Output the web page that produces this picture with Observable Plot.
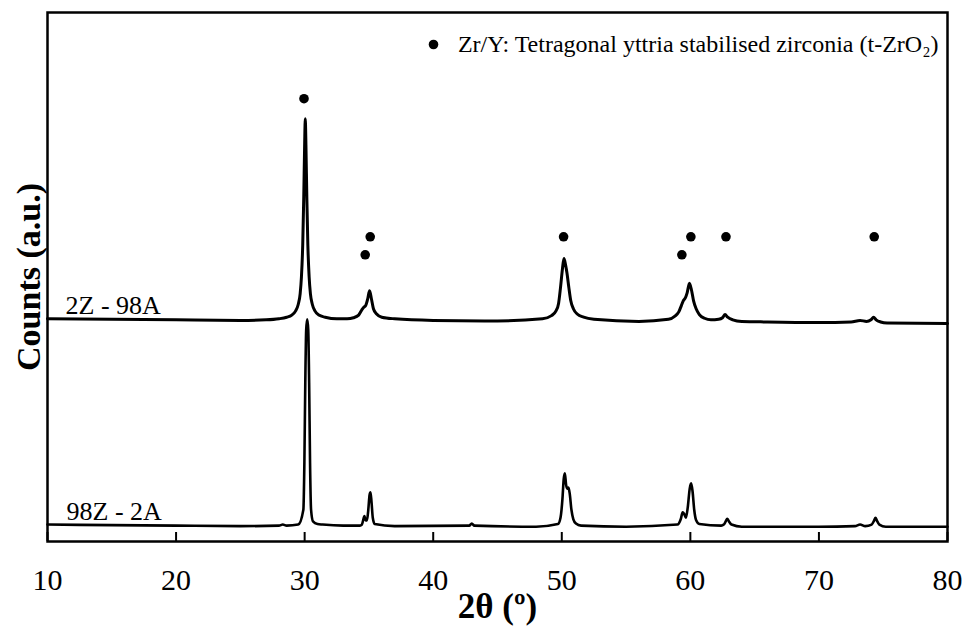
<!DOCTYPE html>
<html>
<head>
<meta charset="utf-8">
<script src="https://cdn.jsdelivr.net/npm/d3@7"></script>
<script src="https://cdn.jsdelivr.net/npm/@observablehq/plot@0.6"></script>
<style>
  html, body { margin: 0; padding: 0; background: #fff; }
</style>
</head>
<body>
<div id="chart"></div>
<script>
// X-ray diffraction patterns of two zirconia/alumina compositions (stacked, arbitrary units)

const xTicks = [10, 20, 30, 40, 50, 60, 70, 80];

// 2Z - 98A pattern (upper trace)
const angle2Z = [10, 15, 20, 25, 27, 28, 28.6, 29.0, 29.3, 29.5, 29.65, 29.75, 29.85, 29.93, 30.0, 30.05, 30.1, 30.17, 30.25, 30.35, 30.45, 30.6, 30.8, 31.1, 31.6, 32.5, 33.3, 33.8, 34.2, 34.45, 34.6, 34.75, 34.9, 35.05, 35.2, 35.35, 35.6, 36.0, 37, 40, 45, 48.5, 49.2, 49.55, 49.75, 49.9, 50.05, 50.17, 50.3, 50.4, 50.55, 50.7, 50.9, 51.2, 51.7, 52.5, 56, 58.3, 58.8, 59.1, 59.3, 59.47, 59.6, 59.75, 59.93, 60.1, 60.25, 60.45, 60.7, 61.1, 61.6, 62.2, 62.5, 62.7, 62.9, 63.3, 64, 66, 70, 72.5, 73.2, 73.7, 74.05, 74.25, 74.45, 74.8, 75.3, 80];
const counts2Z = [421, 420, 419, 418, 419, 421, 424, 428, 436, 448, 468, 500, 560, 650, 750, 799, 750, 650, 560, 500, 468, 448, 436, 428, 424, 421, 421, 423, 428, 438, 443, 446, 458, 474, 458, 440, 430, 424, 421, 418, 417, 421, 427, 436, 450, 480, 515, 535, 522, 508, 480, 455, 440, 430, 424, 420, 416, 420, 426, 434, 446, 456, 460, 470, 488, 474, 455, 440, 429, 422, 419, 420, 423, 429, 424, 419, 416, 415, 414, 415, 418, 416, 419, 424, 419, 415, 413, 412];

// 98Z - 2A pattern (lower trace)
const angle98Z = [10, 15, 20, 25, 28, 28.3, 28.6, 29.5, 29.9, 29.98, 30.05, 30.12, 30.2, 30.28, 30.35, 30.42, 30.5, 30.65, 31.0, 31.4, 33, 34.3, 34.45, 34.55, 34.65, 34.75, 34.85, 34.95, 35.05, 35.12, 35.2, 35.3, 35.45, 37, 42.8, 43.0, 43.2, 48, 49.7, 49.9, 50.05, 50.15, 50.24, 50.33, 50.42, 50.52, 50.62, 50.75, 50.9, 51.1, 51.5, 55, 59.0, 59.25, 59.4, 59.52, 59.65, 59.8, 59.95, 60.06, 60.17, 60.3, 60.45, 60.7, 62.4, 62.6, 62.75, 62.87, 63.0, 63.2, 64, 70, 72.8, 73.2, 73.6, 74.1, 74.3, 74.4, 74.5, 74.7, 75.2, 80];
const counts98Z = [32, 31, 30, 29, 30, 32, 30, 32, 60, 150, 300, 400, 420, 400, 300, 150, 60, 38, 33, 32, 30, 30, 32, 40, 48, 40, 40, 60, 88, 93, 75, 45, 33, 29, 30, 34, 30, 28, 33, 45, 80, 118, 129, 108, 100, 102, 90, 60, 42, 34, 30, 28, 32, 42, 55, 52, 45, 65, 100, 110, 95, 60, 40, 33, 30, 32, 38, 43, 38, 32, 28, 28, 29, 32, 29, 32, 40, 45, 40, 32, 28, 28];

// t-ZrO2 reflections marked above the patterns
const markerAngle = [29.95, 34.71, 35.1, 50.14, 59.34, 60.04, 62.77, 74.3];
const markerCounts = [837, 542, 576, 576, 542, 576, 576, 576];

const seriesNames = ["2Z - 98A", "98Z - 2A"];
const legendLabel = "Zr/Y: Tetragonal yttria stabilised zirconia (t-ZrO\u2082)";

const toPoints = (xs, ys) => xs.map((x, i) => ({x, y: ys[i]}));
const pattern2Z = toPoints(angle2Z, counts2Z);
const pattern98Z = toPoints(angle98Z, counts98Z);
const markers = toPoints(markerAngle, markerCounts);

const serif = "'Liberation Serif', 'Times New Roman', Times, serif";

const chart = Plot.plot({
  width: 964,
  height: 635,
  marginLeft: 47,
  marginRight: 17,
  marginTop: 12,
  marginBottom: 94,
  style: {fontFamily: serif, background: "#fff", color: "#000"},
  x: {domain: [10, 80]},
  y: {domain: [0, 1000], axis: null},
  marks: [
    // inward tick marks on the bottom edge
    Plot.tickX(xTicks, {x: d => d, insetTop: 520, stroke: "#000", strokeWidth: 2}),
    Plot.axisX(xTicks, {tickSize: 0, tickPadding: 27, fontSize: 30, label: null, tickFormat: d => String(d)}),
    Plot.line(pattern2Z, {x: "x", y: "y", stroke: "#000", strokeWidth: 3, strokeLinejoin: "round", curve: "monotone-x"}),
    Plot.line(pattern98Z, {x: "x", y: "y", stroke: "#000", strokeWidth: 2.6, strokeLinejoin: "round", curve: "monotone-x"}),
    Plot.dot(markers, {x: "x", y: "y", r: 4.8, fill: "#000"}),
    // series labels, placed just above the start of each trace
    Plot.text([pattern2Z[0]], {x: "x", y: "y", text: () => seriesNames[0], textAnchor: "start", lineAnchor: "bottom", dx: 18, dy: -5, fontSize: 26}),
    Plot.text([pattern98Z[0]], {x: "x", y: "y", text: () => seriesNames[1], textAnchor: "start", lineAnchor: "bottom", dx: 19, dy: -5, fontSize: 26}),
    // legend
    Plot.dot([0], {frameAnchor: "top-right", dx: -514, dy: 32, r: 4.8, fill: "#000"}),
    Plot.text([legendLabel], {frameAnchor: "top-right", textAnchor: "end", lineAnchor: "middle", dx: -9, dy: 32, fontSize: 24}),
    // axis titles
    Plot.text(["2θ (º)"], {frameAnchor: "bottom", lineAnchor: "top", dy: 52, fontSize: 35, fontWeight: "bold"}),
    Plot.text(["Counts (a.u.)"], {frameAnchor: "left", textAnchor: "middle", rotate: -90, dx: -18, fontSize: 34, fontWeight: "bold"}),
    Plot.frame({stroke: "#000", strokeWidth: 2.5})
  ]
});

document.getElementById("chart").appendChild(chart);
</script>
</body>
</html>
